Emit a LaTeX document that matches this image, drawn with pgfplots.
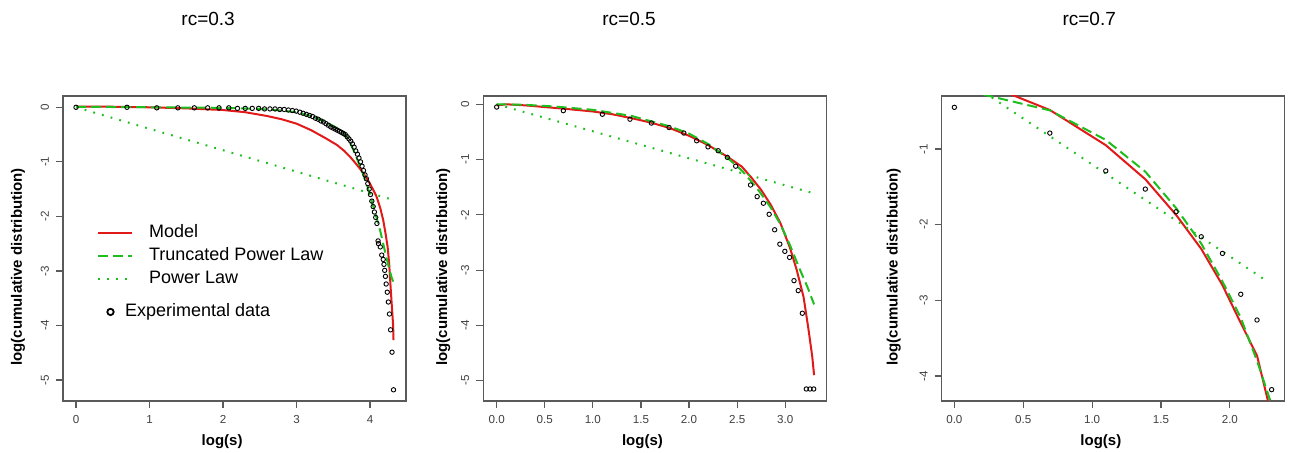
\documentclass[border=0pt]{standalone}
\usepackage{fontspec}
\setmainfont{Liberation Sans}
\usepackage{pgfplots}
\pgfplotsset{compat=1.18}

\definecolor{mred}{RGB}{225,25,25}
\definecolor{mgreen}{RGB}{30,190,30}
\definecolor{boxgray}{RGB}{90,90,90}

\pgfplotsset{
  every axis title shift=0pt,
  rpanel/.style={
    scale only axis, width=171.5pt, height=152.5pt,
    axis line style={boxgray, line width=0.75pt},
    tick align=outside, major tick length=3.5pt,
    tick style={boxgray, line width=0.6pt},
    xtick pos=bottom, ytick pos=left,
    /pgf/number format/assume math mode=true,
    ticklabel style={font=\fontsize{5.8}{6}\selectfont, text=black!75},
    yticklabel style={rotate=90, anchor=south},
    xlabel style={font=\bfseries\fontsize{7.5}{9}\selectfont, at={(rel axis cs:0.464,-0.134)}, anchor=center},
    ylabel style={font=\bfseries\fontsize{7.5}{9}\selectfont, anchor=center},
    title style={font=\fontsize{9.5}{11}\selectfont, anchor=center},
    xlabel={log(s)}, ylabel={log(cumulative distribution)},
  },
  model/.style={mred, line width=1pt, no markers},
  tpl/.style={mgreen, line width=1pt, dash pattern=on 5pt off 2.5pt, no markers},
  pl/.style={mgreen, line width=1pt, dash pattern=on 0.9pt off 3.6pt, no markers},
  expd/.style={only marks, mark=o, mark size=1.1pt, mark options={black, line width=0.45pt}},
}

\begin{document}
\begin{tikzpicture}
\path[use as bounding box] (0,0) rectangle (645pt,226.5pt);

% ---------------- Panel 1: rc=0.3
\begin{axis}[rpanel, at={(31.5pt,26pt)}, anchor=south west,
  xmin=-0.177, xmax=4.49, ymin=-5.385, ymax=0.207,
  xtick={0,1,2,3,4}, ytick={-5,-4,-3,-2,-1,0},
  title={rc=0.3}, title style={at={(rel axis cs:0.423,1.252)}},
  ylabel style={at={(rel axis cs:-0.131,0.44)}},
  legend image code/.code={\draw[#1] (0pt,0pt) -- (17pt,0pt);},
  legend style={at={(rel axis cs:0.098,0.585)}, anchor=north west, draw=none, fill=none,
    inner sep=0pt, font=\fontsize{9}{10}\selectfont, row sep=1.4pt, column sep=7.5pt,
    nodes={inner sep=0.5pt, text height=7pt, text depth=2pt}},
  legend cell align=left]
\addplot[model] coordinates {(0,0.01) (0.5,0.01) (1.0,0.0) (1.5,-0.02) (2.0,-0.05) (2.3,-0.09) (2.6,-0.16) (2.8,-0.22) (3.0,-0.30) (3.2,-0.42) (3.4,-0.57) (3.55,-0.69) (3.65,-0.80) (3.73,-0.91) (3.8,-1.02) (3.86,-1.12) (3.93,-1.25) (4.0,-1.40) (4.05,-1.53) (4.09,-1.64) (4.14,-1.85) (4.18,-2.07) (4.21,-2.30) (4.24,-2.56) (4.26,-2.85) (4.28,-3.29) (4.30,-3.70) (4.315,-4.0) (4.32,-4.27)};
\addlegendentry{Model}
\addplot[tpl] coordinates {(0,0.01) (1,0.0) (2,-0.01) (2.5,-0.03) (2.8,-0.06) (3.0,-0.09) (3.2,-0.16) (3.4,-0.27) (3.55,-0.38) (3.65,-0.48) (3.72,-0.62) (3.78,-0.80) (3.84,-1.0) (3.9,-1.2) (3.96,-1.43) (4.02,-1.70) (4.08,-1.98) (4.14,-2.27) (4.2,-2.62) (4.25,-2.90) (4.29,-3.10) (4.32,-3.22)};
\addlegendentry{Truncated Power Law}
\addplot[pl] coordinates {(0,0) (4.32,-1.70)};
\addlegendentry{Power Law}
\addplot[expd, forget plot] coordinates {
(0,0) (0.693,0) (1.099,-0.01) (1.386,-0.01) (1.609,-0.01) (1.792,-0.01) (1.946,-0.01) (2.079,-0.01) (2.197,-0.02) (2.303,-0.02) (2.398,-0.02) (2.485,-0.02) (2.565,-0.03) (2.639,-0.03) (2.708,-0.03) (2.773,-0.04) (2.833,-0.04) (2.890,-0.05) (2.944,-0.06) (2.996,-0.07) (3.045,-0.09) (3.091,-0.11) (3.135,-0.13) (3.178,-0.15) (3.219,-0.17) (3.258,-0.20) (3.296,-0.22) (3.332,-0.25) (3.367,-0.27) (3.401,-0.30) (3.434,-0.33) (3.466,-0.36) (3.497,-0.38) (3.526,-0.40) (3.555,-0.42) (3.584,-0.44) (3.611,-0.46) (3.638,-0.48) (3.664,-0.50) (3.689,-0.54) (3.714,-0.58) (3.738,-0.62) (3.761,-0.67) (3.784,-0.73) (3.807,-0.80) (3.829,-0.86) (3.850,-0.93) (3.871,-1.00) (3.892,-1.08) (3.912,-1.16) (3.932,-1.24) (3.951,-1.31) (3.970,-1.40) (3.989,-1.50) (4.007,-1.60) (4.025,-1.72) (4.043,-1.82) (4.060,-1.92) (4.078,-2.02) (4.094,-2.13) (4.110,-2.45) (4.115,-2.50) (4.140,-2.56) (4.160,-2.71) (4.180,-2.79) (4.190,-2.88) (4.200,-2.99) (4.210,-3.10) (4.220,-3.24) (4.235,-3.39) (4.250,-3.57) (4.265,-3.79) (4.280,-4.08) (4.300,-4.49) (4.320,-5.18)};
\end{axis}

% second legend (Experimental data) for panel 1
\begin{axis}[scale only axis, width=171.5pt, height=152.5pt, at={(31.5pt,26pt)}, anchor=south west,
  hide axis, xmin=0, xmax=1, ymin=0, ymax=1,
  legend image code/.code={\draw[#1] plot coordinates {(0pt,0pt)};},
  legend style={at={(rel axis cs:0.128,0.292)}, anchor=west, draw=none, fill=none,
    inner sep=0pt, font=\fontsize{9}{10}\selectfont, column sep=5.2pt,
    nodes={inner sep=0.5pt, text height=7pt, text depth=2pt}}]
\addlegendimage{only marks, mark=o, mark size=1.6pt, mark options={black, line width=0.9pt}}
\addlegendentry{Experimental data}
\end{axis}

% ---------------- Panel 2: rc=0.5
\begin{axis}[rpanel, at={(241.65pt,26pt)}, anchor=south west,
  xmin=-0.139, xmax=3.427, ymin=-5.367, ymax=0.15,
  xtick={0,0.5,1,1.5,2,2.5,3}, ytick={-5,-4,-3,-2,-1,0},
  xticklabel style={/pgf/number format/.cd, fixed, fixed zerofill, precision=1},
  title={rc=0.5}, title style={at={(rel axis cs:0.425,1.252)}},
  ylabel style={at={(rel axis cs:-0.117,0.44)}}]
\addplot[model] coordinates {(0,-0.02) (0.1,0.0) (0.3,-0.02) (0.5,-0.05) (0.7,-0.08) (1.0,-0.13) (1.2,-0.18) (1.4,-0.25) (1.6,-0.33) (1.8,-0.43) (2.0,-0.57) (2.2,-0.74) (2.4,-0.95) (2.55,-1.13) (2.65,-1.33) (2.75,-1.55) (2.85,-1.82) (2.95,-2.15) (3.05,-2.6) (3.12,-3.0) (3.19,-3.48) (3.24,-4.05) (3.28,-4.55) (3.30,-4.9)};
\addplot[tpl] coordinates {(0,0) (0.3,-0.01) (0.6,-0.04) (1.0,-0.10) (1.4,-0.21) (1.8,-0.40) (2.0,-0.53) (2.2,-0.72) (2.4,-0.97) (2.55,-1.2) (2.65,-1.40) (2.75,-1.62) (2.85,-1.87) (2.95,-2.17) (3.05,-2.55) (3.15,-2.98) (3.23,-3.3) (3.30,-3.62)};
\addplot[pl] coordinates {(0,0) (3.295,-1.61)};
\addplot[expd] coordinates {(0,-0.05) (0.693,-0.115) (1.099,-0.18) (1.386,-0.27) (1.609,-0.34) (1.792,-0.42) (1.946,-0.52) (2.079,-0.66) (2.197,-0.77) (2.303,-0.84) (2.398,-0.96) (2.485,-1.12) (2.639,-1.46) (2.708,-1.67) (2.773,-1.79) (2.833,-1.99) (2.890,-2.27) (2.944,-2.53) (2.996,-2.66) (3.045,-2.77) (3.091,-3.19) (3.135,-3.37) (3.178,-3.78) (3.219,-5.15) (3.258,-5.15) (3.296,-5.15)};
\end{axis}

% ---------------- Panel 3: rc=0.7
\begin{axis}[rpanel, at={(470.85pt,26pt)}, anchor=south west,
  xmin=-0.092, xmax=2.398, ymin=-4.33, ymax=-0.30,
  xtick={0,0.5,1,1.5,2}, ytick={-4,-3,-2,-1},
  xticklabel style={/pgf/number format/.cd, fixed, fixed zerofill, precision=1},
  title={rc=0.7}, title style={at={(rel axis cs:0.430,1.252)}},
  ylabel style={at={(rel axis cs:-0.14,0.44)}}]
\addplot[model] coordinates {(0,0.02) (0.693,-0.485) (1.099,-0.95) (1.386,-1.40) (1.609,-1.87) (1.792,-2.32) (1.946,-2.80) (2.079,-3.30) (2.197,-3.73) (2.303,-4.53)};
\addplot[tpl] coordinates {(0,-0.19) (0.693,-0.49) (1.099,-0.88) (1.386,-1.30) (1.609,-1.78) (1.792,-2.25) (1.946,-2.75) (2.079,-3.23) (2.197,-3.80) (2.303,-4.38)};
\addplot[pl] coordinates {(0,0.01) (2.28,-2.76)};
\addplot[expd] coordinates {(0,-0.45) (0.693,-0.79) (1.099,-1.29) (1.386,-1.53) (1.609,-1.83) (1.792,-2.16) (1.946,-2.38) (2.079,-2.92) (2.197,-3.26) (2.303,-4.18)};
\end{axis}
\end{tikzpicture}
\end{document}
